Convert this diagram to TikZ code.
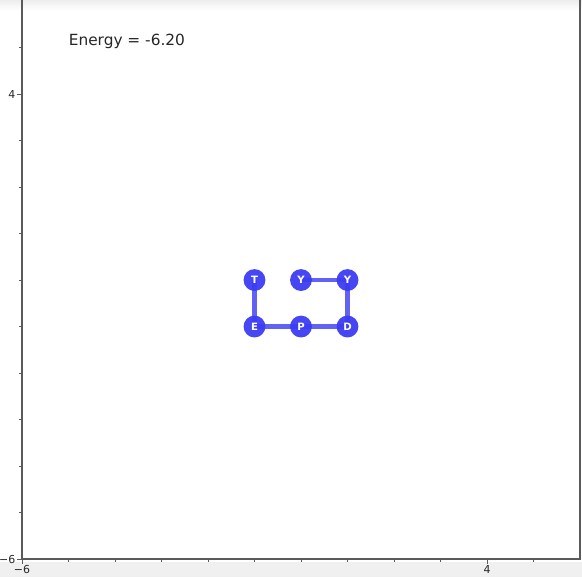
\documentclass[tikz,border=0pt]{standalone}
\usepackage{fontspec}
\setmainfont{DejaVu Sans}
\usepackage{tikz}
\usetikzlibrary{backgrounds}
\definecolor{beadblue}{RGB}{60,60,242}
\definecolor{spinegray}{RGB}{90,90,90}
\tikzset{
  bead/.style={circle, fill=beadblue, fill opacity=0.95, text opacity=1,
    text=white, inner sep=0pt, minimum size=0.47cm,
    font=\fontsize{6.2}{7}\selectfont\bfseries},
  bond/.style={beadblue!90, line width=3pt, opacity=0.9},
  ticklabel/.style={font=\fontsize{6.7}{8}\selectfont, text=black!85, inner sep=1pt}
}

\begin{document}
\begin{tikzpicture}
  \useasboundingbox (-6.473,-6.387) rectangle (6.043,6.022);
  % screenshot shading
  \fill[black!6] (-6.473,-6.387) rectangle (6.043,-6.06);
  \shade[top color=black!7, bottom color=white] (-6.473,5.80) rectangle (6.043,6.022);
  % axes frame
  \draw[spinegray, line width=0.9pt] (-6,6.1) -- (-6,-6) -- (6,-6) -- (6,6.1);
  \foreach \t in {-5,...,5} {
    \draw[spinegray, line width=0.5pt] (\t,-6) -- (\t,-6.06);
    \draw[spinegray, line width=0.5pt] (-6,\t) -- (-6.06,\t);
  }
  \foreach \t in {-6,4} {
    \draw[spinegray, line width=0.6pt] (\t,-6) -- (\t,-6.1);
    \draw[spinegray, line width=0.6pt] (-6,\t) -- (-6.1,\t);
  }
  \node[ticklabel, below] (xlo) at (-6,-6.1) {−6};
  \node[ticklabel, below] (xhi) at (4,-6.1) {4};
  \node[ticklabel, left] (ylo) at (-6.1,-6) {−6};
  \node[ticklabel, left] (yhi) at (-6.1,4) {4};
  % energy label
  \node[anchor=base west, inner sep=0pt, font=\fontsize{9.4}{11}\selectfont,
    text=black!85] (energy) at (-5,5.05) {Energy = -6.20};
  % chain
  \node[bead] (r1) at (-1,0) {T};
  \node[bead] (r2) at (-1,-1) {E};
  \node[bead] (r3) at (0,-1) {P};
  \node[bead] (r4) at (1,-1) {D};
  \node[bead] (r5) at (1,0) {Y};
  \node[bead] (r6) at (0,0) {Y};
  \begin{scope}[on background layer]
    \foreach \a/\b in {r1/r2, r2/r3, r3/r4, r4/r5, r5/r6}
      \draw[bond] (\a.center) -- (\b.center);
  \end{scope}
\end{tikzpicture}
\end{document}
